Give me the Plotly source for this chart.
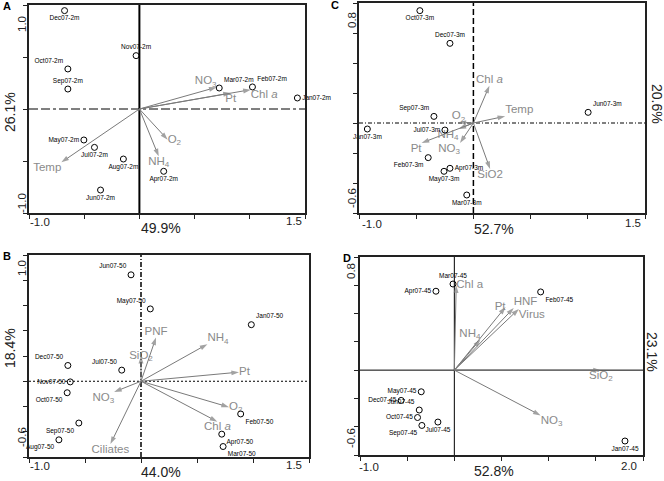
import plotly.graph_objects as go

W, H = 664, 481

# ---------------- DATA ----------------
# Panel A (2 m)
A_samples = ["Dec07-2m", "Nov07-2m", "Oct07-2m", "Sep07-2m", "Mar07-2m", "Feb07-2m",
             "Jan07-2m", "May07-2m", "Jul07-2m", "Aug07-2m", "Apr07-2m", "Jun07-2m"]
A_sx = [-0.678, -0.03, -0.648, -0.648, 0.723, 1.024, 1.431, -0.503, -0.407, -0.145, 0.22, -0.352]
A_sy = [0.946, 0.513, 0.385, 0.192, 0.202, 0.212, 0.106, -0.298, -0.369, -0.481, -0.599, -0.779]
A_vars = ["NO<sub>3</sub>", "Pt", "Chl <i>a</i>", "O<sub>2</sub>", "NH<sub>4</sub>", "Temp"]
A_vx = [0.699, 0.828, 1.009, 0.256, 0.175, -0.707]
A_vy = [0.209, 0.154, 0.186, -0.295, -0.455, -0.513]

# Panel C (3 m)
C_samples = ["Oct07-3m", "Dec07-3m", "Sep07-3m", "Jul07-3m", "Jan07-3m", "Feb07-3m",
             "Apr07-3m", "May07-3m", "Mar07-3m", "Jun07-3m"]
C_sx = [-0.468, -0.205, -0.345, -0.249, -0.927, -0.395, -0.205, -0.257, -0.058, 1.003]
C_sy = [0.749, 0.531, 0.044, -0.047, -0.04, -0.231, -0.302, -0.322, -0.48, 0.071]
C_vars = ["Chl <i>a</i>", "Temp", "O<sub>2</sub>", "NH<sub>4</sub>", "NO<sub>3</sub>", "Pt", "SiO2"]
C_vx = [0.14, 0.278, -0.13, -0.13, -0.117, -0.453, 0.146]
C_vy = [0.249, 0.045, 0.005, -0.04, -0.133, -0.133, -0.307]

# Panel B (50 m)
B_samples = ["Jun07-50", "May07-50", "Jan07-50", "Dec07-50", "Jul07-50", "Nov07-50",
             "Oct07-50", "Sep07-50", "Aug07-50", "Feb07-50", "Apr07-50", "Mar07-50"]
B_sx = [-0.089, 0.083, 0.985, -0.653, -0.172, -0.632, -0.659, -0.555, -0.733, 0.89, 0.721, 0.733]
B_sy = [0.843, 0.573, 0.448, 0.125, 0.088, -0.005, -0.091, -0.331, -0.464, -0.259, -0.419, -0.517]
B_vars = ["PNF", "SiO<sub>2</sub>", "NH<sub>4</sub>", "Pt", "O<sub>2</sub>", "Chl <i>a</i>",
          "NO<sub>3</sub>", "Ciliates"]
B_vx = [0.134, 0.0, 0.593, 0.875, 0.786, 0.682, -0.24, -0.273]
B_vy = [0.347, 0.2, 0.294, 0.072, -0.205, -0.32, -0.085, -0.498]

# Panel D (45 m)
D_samples = ["Mar07-45", "Apr07-45", "Feb07-45", "May07-45", "Dec07-45", "Jun07-45",
             "Oct07-45", "Sep07-45", "Jul07-45", "Jan07-45"]
D_sx = [-0.014, -0.195, 0.915, -0.351, -0.564, -0.372, -0.39, -0.344, -0.174, 1.809]
D_sy = [0.609, 0.558, 0.553, -0.153, -0.214, -0.282, -0.335, -0.391, -0.367, -0.501]
D_vars = ["Chl a", "NH<sub>4</sub>", "Pt", "HNF", "Virus", "SiO<sub>2</sub>", "NO<sub>3</sub>"]
D_vx = [0.02, 0.277, 0.543, 0.63, 0.684, 1.553, 0.915]
D_vy = [0.6, 0.217, 0.447, 0.44, 0.433, 0.0, -0.32]

# Axis ranges / explained variance / tick labels
panel_letters = ["A", "C", "B", "D"]
x_ranges = [[-1.0, 1.5], [-1.0, 1.5], [-1.0, 1.5], [-1.0, 2.0]]
y_ranges = [[-1.0, 1.0], [-0.6, 0.8], [-0.6, 1.0], [-0.6, 0.8]]
x_titles = ["49.9%", "52.7%", "44.0%", "52.8%"]
y_titles = ["26.1%", "20.6%", "18.4%", "23.1%"]
x_tick_text = [["-1.0", "1.5"], ["-1.0", "1.5"], ["-1.0", "1.5"], ["-1.0", "2.0"]]
y_tick_text = [["1.0", "-1.0"], ["0.8", "-0.6"], ["1.0", "-0.6"], ["0.8", "-0.6"]]

# ---------------- STYLE / LAYOUT ----------------
def px(x):
    return x / W

def py(y):
    return 1 - y / H

boxes = [(29, 305, 5, 213), (359, 645, 3, 213), (29, 309, 255, 457), (360, 643, 257, 455)]

A_spos = ["bottom center", "top center", "top left", "top center", "top right", "top right",
          "middle right", "middle left", "bottom center", "bottom center", "bottom center", "bottom center"]
A_vpos = ["top left", "bottom center", "bottom right", "middle right", "bottom center", "bottom left"]
C_spos = ["bottom center", "top center", "top left", "middle left", "bottom center", "bottom left",
          "middle right", "bottom center", "bottom center", "top right"]
C_vpos = ["top center", "top right", "top center", "bottom left", "bottom left", "bottom left", "bottom center"]
B_spos = ["top left", "top left", "top right", "top left", "top left", "middle left",
          "bottom left", "bottom left", "bottom left", "bottom right", "bottom right", "bottom right"]
B_vpos = ["top center", "middle center", "top right", "middle right", "middle right",
          "bottom center", "bottom left", "bottom center"]
D_spos = ["top center", "middle left", "bottom right", "middle left", "middle left", "top left",
          "middle left", "bottom left", "bottom center", "bottom center"]
D_vpos = ["middle right", "top left", "middle left", "top right", "bottom right", "bottom center", "bottom right"]

panels = [
    (A_samples, A_sx, A_sy, A_spos, A_vars, A_vx, A_vy, A_vpos),
    (C_samples, C_sx, C_sy, C_spos, C_vars, C_vx, C_vy, C_vpos),
    (B_samples, B_sx, B_sy, B_spos, B_vars, B_vx, B_vy, B_vpos),
    (D_samples, D_sx, D_sy, D_spos, D_vars, D_vx, D_vy, D_vpos),
]

# zero-line styles (vertical, horizontal): (dash, width)
zero_styles = [
    (("solid", 2.0), ("9px,3px,9px,3px,3px,3px", 1.0)),
    (("6px,3px", 1.5), ("4px,2px,1px,2px", 1.0)),
    (("5px,2px,1px,2px", 1.5), ("2px,2px", 1.0)),
    (("solid", 1.0), ("solid", 1.0)),
]
y_tick_step = [0.5, 0.2, 0.2, 0.2]

# label positions (pixels) for text annotations
x_tick_px = [[(40, 222), (294, 221)], [(372, 224), (633, 223)],
             [(40, 466), (294, 465)], [(369, 467), (629, 466)]]
y_tick_px = [[(22, 24), (22, 203)], [(352, 20), (352, 198)],
             [(22, 268), (22, 437)], [(351, 271), (351, 438)]]
x_title_px = [(161, 228), (494, 229), (161, 472), (494, 471)]
y_title_px = [(10, 112, -90), (657, 104, 90), (10, 348, -90), (652, 352, 90)]
letter_px = [(7, 6), (335, 5), (7, 256), (347, 258)]

ARROW_COL = "#7a7a7a"
LABEL_COL = "#8a8a8a"
FONT = "Liberation Sans, Arial, sans-serif"

fig = go.Figure()
annotations = []
shapes = []
layout_axes = {}

for i, (samples, sx, sy, spos, vars_, vx, vy, vpos) in enumerate(panels):
    n = "" if i == 0 else str(i + 1)
    xa, ya = "x" + n, "y" + n
    x0, x1, y0, y1 = boxes[i]
    xr, yr = x_ranges[i], y_ranges[i]

    # axes
    xt = []
    v = xr[0]
    while v <= xr[1] + 1e-9:
        xt.append(round(v, 3)); v += 0.5
    yt = []
    v = yr[0]
    while v <= yr[1] + 1e-9:
        yt.append(round(v, 3)); v += y_tick_step[i]
    common = dict(showgrid=False, zeroline=False, showline=True, mirror=True,
                  linecolor="#222", linewidth=1.5, ticks="outside", ticklen=4,
                  tickcolor="#222", tickwidth=1.2, showticklabels=False, fixedrange=True)
    layout_axes["xaxis" + n] = dict(domain=[px(x0), px(x1)], range=xr, anchor=ya,
                                    tickvals=xt, **common)
    layout_axes["yaxis" + n] = dict(domain=[py(y1), py(y0)], range=yr, anchor=xa,
                                    tickvals=yt, **common)

    # zero lines
    (vd, vw), (hd, hw) = zero_styles[i]
    shapes.append(dict(type="line", xref=xa, yref=ya + " domain", x0=0, x1=0, y0=0, y1=1,
                       line=dict(color="black", width=vw, dash=vd), layer="below"))
    shapes.append(dict(type="line", xref=xa + " domain", yref=ya, x0=0, x1=1, y0=0, y1=0,
                       line=dict(color="black", width=hw, dash=hd), layer="below"))

    # arrows: line from origin to tip, arrowhead marker at tip
    ax_, ay_, sym, siz = [], [], [], []
    for tx, ty in zip(vx, vy):
        ax_ += [0, tx, None]
        ay_ += [0, ty, None]
        sym += ["circle", "arrow", "circle"]
        siz += [0, 8, 0]
    fig.add_trace(go.Scatter(x=ax_, y=ay_, mode="lines+markers",
                             line=dict(color=ARROW_COL, width=1),
                             marker=dict(symbol=sym, size=siz, color=ARROW_COL,
                                         angleref="previous", line=dict(width=0)),
                             xaxis=xa, yaxis=ya, hoverinfo="skip", showlegend=False,
                             connectgaps=False))
    # variable labels
    fig.add_trace(go.Scatter(x=vx, y=vy, mode="text", text=vars_, textposition=vpos,
                             textfont=dict(family=FONT, size=11.5, color=LABEL_COL),
                             xaxis=xa, yaxis=ya, hoverinfo="skip", showlegend=False,
                             cliponaxis=False))
    # samples
    fig.add_trace(go.Scatter(x=sx, y=sy, mode="markers+text", text=samples, textposition=spos,
                             marker=dict(symbol="circle-open", size=6, color="black",
                                         line=dict(width=1, color="black")),
                             textfont=dict(family=FONT, size=6.5, color="black"),
                             xaxis=xa, yaxis=ya, showlegend=False, cliponaxis=False))

    # tick labels
    for (lx, ly), t in zip(x_tick_px[i], x_tick_text[i]):
        annotations.append(dict(x=px(lx), y=py(ly), xref="paper", yref="paper", text=t,
                                showarrow=False, font=dict(family=FONT, size=11.5, color="#222"),
                                xanchor="center", yanchor="middle"))
    for (lx, ly), t in zip(y_tick_px[i], y_tick_text[i]):
        annotations.append(dict(x=px(lx), y=py(ly), xref="paper", yref="paper", text=t,
                                showarrow=False, textangle=-90,
                                font=dict(family=FONT, size=11.5, color="#222"),
                                xanchor="center", yanchor="middle"))
    # axis titles
    tx_, ty_ = x_title_px[i]
    annotations.append(dict(x=px(tx_), y=py(ty_), xref="paper", yref="paper", text=x_titles[i],
                            showarrow=False, font=dict(family=FONT, size=14, color="#222"),
                            xanchor="center", yanchor="middle"))
    tx_, ty_, ang = y_title_px[i]
    annotations.append(dict(x=px(tx_), y=py(ty_), xref="paper", yref="paper", text=y_titles[i],
                            showarrow=False, textangle=ang,
                            font=dict(family=FONT, size=14, color="#222"),
                            xanchor="center", yanchor="middle"))
    lx, ly = letter_px[i]
    annotations.append(dict(x=px(lx), y=py(ly), xref="paper", yref="paper",
                            text="<b>" + panel_letters[i] + "</b>", showarrow=False,
                            font=dict(family=FONT, size=11, color="black"),
                            xanchor="center", yanchor="middle"))

fig.update_layout(width=W, height=H, margin=dict(l=0, r=0, t=0, b=0),
                  paper_bgcolor="white", plot_bgcolor="white", hovermode=False,
                  annotations=annotations, shapes=shapes, **layout_axes)

fig.write_html("out.html", config={"displayModeBar": False},
               post_script="document.body.style.margin='0px';document.body.style.overflow='hidden';")
